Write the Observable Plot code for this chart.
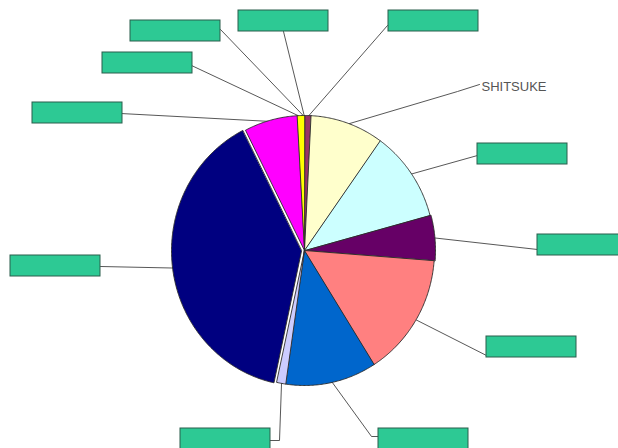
<!DOCTYPE html>
<html><head><meta charset="utf-8">
<script src="https://cdn.jsdelivr.net/npm/d3@7"></script>
<script src="https://cdn.jsdelivr.net/npm/@observablehq/plot@0.6"></script>
<style>body{margin:0;background:#fff}</style>
</head><body><div id="chart"></div>
<script>
// ---- data (clockwise from 12 o'clock) ----
const categories = ["P01","P02","P03","P04","P05","P06","P07","P08","P09","P10","P11","P12"];
const values = [0, 0.8, 9.1, 10.9, 5.4, 14.8, 11.3, 1.1, 39.1, 6.6, 0.9, 0];
const labels = [null, null, "SHITSUKE", null, null, null, null, null, null, null, null, null];
const colors = ["#9999FF","#993366","#FFFFCC","#CCFFFF","#660066","#FF8080","#0066CC","#CCCCFF","#000080","#FF00FF","#FFFF00","#00FFFF"];

// ---- layout ----
const W = 618, H = 448, cx = 304, cy = 250, rx = 130, ry = 135;
const explode = [0,0,0,0,1,0,0,0,3,0,0,0];
const boxW = 90, boxH = 21;
const labelLayout = [
  {box:[238,10], end:[283,31]},
  {box:[388,10], end:[387,25]},
  {text:[481,86], end:[479,84], elbow:[457,91]},
  {box:[477,143], end:[477,155]},
  {box:[537,234], end:[537,249]},
  {box:[486,336], end:[486,355]},
  {box:[378,428], end:[378,436], elbow:[371,436]},
  {box:[180,428], end:[268,440], elbow:[279,440]},
  {box:[10,255], end:[100,266]},
  {box:[32,102], end:[120,113]},
  {box:[102,52], end:[191,65]},
  {box:[130,20], end:[220,29]}
];

const data = categories.map((c,i) => ({id:c, value:values[i], color:colors[i], label:labels[i]}));
const arcs = d3.pie().sort(null).value(d => d.value).startAngle(0).endAngle(2*Math.PI)(data);

const pt = (a, k, off) => [cx + off[0] + k*rx*Math.sin(a), cy + off[1] - k*ry*Math.cos(a)];

const slicePts = [];
const leaderPts = [];
const boxes = [];
const texts = [];
arcs.forEach((a, i) => {
  const mid = (a.startAngle + a.endAngle)/2;
  const off = [explode[i]*Math.sin(mid), -explode[i]*Math.cos(mid)];
  if (a.data.value > 0) {
    const n = Math.max(2, Math.ceil((a.endAngle - a.startAngle) / 0.01));
    const c0 = pt(0, 0, off);
    slicePts.push({id:a.data.id, color:a.data.color, x:c0[0], y:c0[1]});
    for (let j = 0; j <= n; j++) {
      const ang = a.startAngle + (a.endAngle - a.startAngle)*j/n;
      const p = pt(ang, 1, off);
      slicePts.push({id:a.data.id, color:a.data.color, x:p[0], y:p[1]});
    }
  }
  const L = labelLayout[i];
  const s = pt(mid, 0.99, off);
  leaderPts.push({id:a.data.id, x:s[0], y:s[1]});
  if (L.elbow) leaderPts.push({id:a.data.id, x:L.elbow[0], y:L.elbow[1]});
  leaderPts.push({id:a.data.id, x:L.end[0], y:L.end[1]});
  if (L.box) boxes.push({id:a.data.id, x1:L.box[0], y1:L.box[1], x2:L.box[0]+boxW, y2:L.box[1]+boxH});
  if (L.text && a.data.label) texts.push({x:L.text[0], y:L.text[1], text:a.data.label});
});

const chart = Plot.plot({
  width: W, height: H,
  margin: 0,
  x: {domain:[0,W], range:[0,W], axis:null},
  y: {domain:[0,H], range:[0,H], axis:null},
  color: {type:"identity"},
  marks: [
    Plot.line(leaderPts, {x:"x", y:"y", z:"id", stroke:"#444", strokeWidth:0.9}),
    Plot.line(slicePts, {x:"x", y:"y", z:"id", fill:"color", stroke:"#2a2a2a", strokeWidth:0.9, curve:"linear-closed"}),
    Plot.rect(boxes, {x1:"x1", x2:"x2", y1:"y1", y2:"y2", fill:"#2DC994", stroke:"#2a5e4c", strokeWidth:1}),
    Plot.text(texts, {x:"x", y:"y", text:"text", textAnchor:"start", fontSize:13, fill:"#555", fontFamily:"Liberation Sans, Arial, sans-serif"})
  ]
});
document.getElementById("chart").appendChild(chart);
</script>
</body></html>
